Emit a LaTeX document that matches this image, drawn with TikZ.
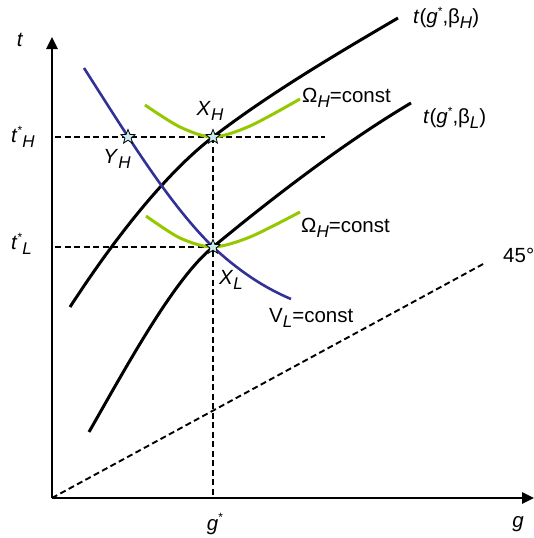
\documentclass[tikz,border=0pt]{standalone}
\usepackage{fontspec}
\setmainfont{Liberation Sans}
\usetikzlibrary{shapes.geometric,arrows.meta}
\definecolor{limegreen}{RGB}{150,200,0}
\definecolor{navyblue}{RGB}{50,50,150}
\definecolor{starfill}{RGB}{200,236,240}
\newcommand{\lowsub}[1]{\raisebox{-0.45ex}{\fontsize{17}{19}\selectfont #1}}
\newcommand{\upstar}{\raisebox{0.75ex}{\fontsize{12}{14}\selectfont *}}

\begin{document}
\begin{tikzpicture}[x=1pt, y=-1pt,
  axis/.style={line width=2.6pt, -{Triangle[length=12pt,width=11pt]}},
  guide/.style={line width=1.9pt, dash pattern=on 6pt off 3.5pt},
  budget/.style={line width=3pt},
  indiff/.style={line width=3pt, draw=limegreen},
  vcurve/.style={line width=2.6pt, draw=navyblue},
  eqstar/.style={star, star points=5, star point ratio=2.3, draw, line width=0.8pt, fill=starfill, minimum size=15pt, inner sep=0pt},
  lbl/.style={font=\fontsize{20.5}{24}\selectfont, inner sep=0pt}
]
\useasboundingbox (0,0) rectangle (534,538);

% axes
\coordinate (origin) at (52,498);
\coordinate (ytop) at (52,37);
\coordinate (xend) at (534,498);
\draw[axis] (origin) -- (ytop);
\draw[axis] (origin) -- (xend);

% equilibrium points
\coordinate (xh) at (213,137);
\coordinate (xl) at (213,247);
\coordinate (yh) at (128,137);
\coordinate (th) at (55,137);
\coordinate (tl) at (55,247);
\coordinate (gs) at (213,498);
\coordinate (hend) at (325,137);
\coordinate (diagend) at (485,263);

% dashed guides
\draw[guide] (th) -- (hend);
\draw[guide] (tl) -- (xl);
\draw[guide] (xh) -- (gs);
\draw[guide] (origin) -- (diagend);

% curves
\draw[budget] (70,307) .. controls (120,230) and (170,170) .. (xh)
  .. controls (270,93) and (340,52) .. (398,18);
\draw[budget] (89,432) .. controls (130,360) and (175,278) .. (xl)
  .. controls (265,204) and (340,145) .. (411,103);
\draw[indiff] plot[smooth] coordinates {(145,105) (180,127) (213,137) (250,126) (300,99)};
\draw[indiff] plot[smooth] coordinates {(146,216) (180,238) (213,247) (250,237) (300,212)};
\draw[vcurve] (84,68) .. controls (130,140) and (170,205) .. (xl)
  .. controls (240,272) and (265,288) .. (291,299);

% stars
\node[eqstar] (starYH) at (yh) {};
\node[eqstar] (starXH) at (xh) {};
\node[eqstar] (starXL) at (xl) {};

% labels
\node[lbl] (labt) at (20,40) {\textit{t}};
\node[lbl] (labg) at (518,524) {\textit{g}};
\node[lbl] (labgs) at (215,524) {\textit{g}\upstar};
\node[lbl, anchor=west] (labth) at (11,137) {\textit{t}\upstar\lowsub{\textit{H}}};
\node[lbl, anchor=west] (labtl) at (11,244) {\textit{t}\upstar\lowsub{\textit{L}}};
\node[lbl] (labxh) at (210,111) {\textit{X}\lowsub{\textit{H}}};
\node[lbl] (labyh) at (117,159) {\textit{Y}\lowsub{\textit{H}}};
\node[lbl] (labxl) at (231,280) {\textit{X}\lowsub{\textit{L}}};
\node[lbl, anchor=west] (labbh) at (413,18) {\textit{t}(\textit{g}\upstar,β\lowsub{\textit{H}})};
\node[lbl, anchor=west] (labbl) at (423,118) {\textit{t}(\textit{g}\upstar,β\lowsub{\textit{L}})};
\node[lbl, anchor=west] (labom1) at (302,98) {Ω\lowsub{\textit{H}}=const};
\node[lbl, anchor=west] (labom2) at (301,228) {Ω\lowsub{\textit{H}}=const};
\node[lbl, anchor=west] (labvl) at (269,318) {V\lowsub{\textit{L}}=const};
\node[lbl, anchor=west] (lab45) at (503,255) {45°};
\end{tikzpicture}
\end{document}
